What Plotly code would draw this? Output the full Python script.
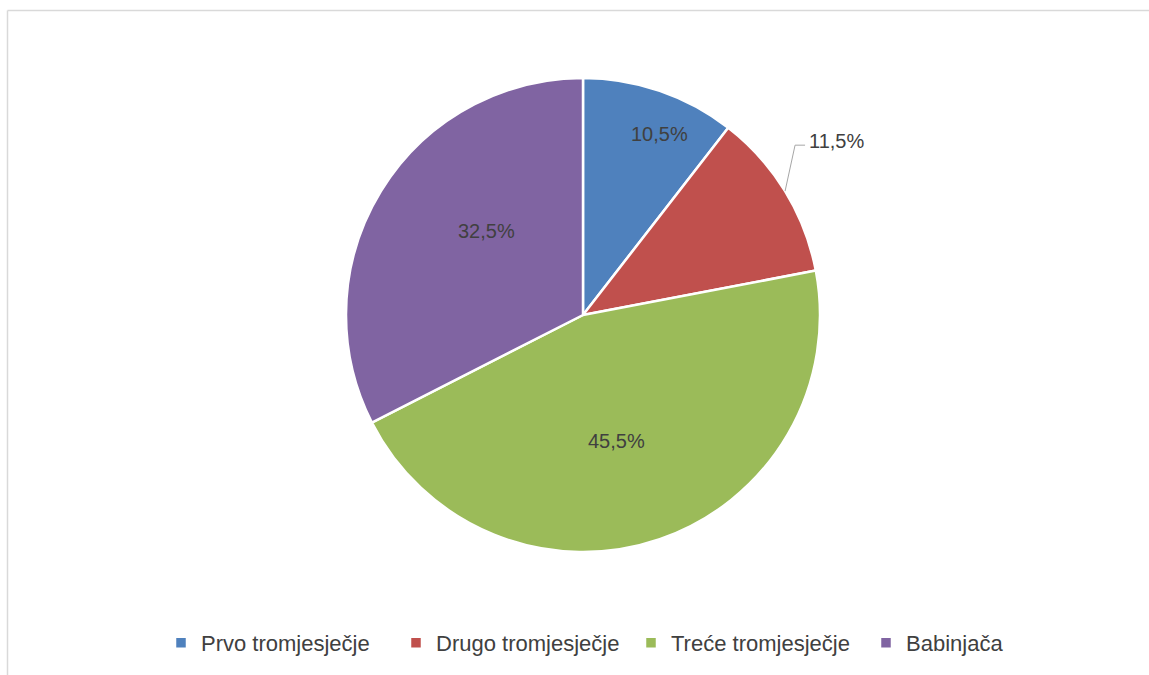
import math
import plotly.graph_objects as go

categories = ["Prvo tromjesječje", "Drugo tromjesječje", "Treće tromjesječje", "Babinjača"]
values = [10.5, 11.5, 45.5, 32.5]
colors = ["#4F81BD", "#C0504D", "#9BBB59", "#8064A2"]

# label placement style (per slice): inside labels at a fraction of the radius,
# with a small angular nudge; the second slice is labelled outside with a leader line
label_radius = [0.83, None, 0.55, 0.54]
label_nudge_deg = [4, 0, 4, 9.5]
outside_label_index = 1

W, H = 1149, 675
cx, cy, R = 583, 315, 237    # page pixel geometry of the pie
FONT = "Liberation Sans"
TXT = "#404040"


def px(x):
    return x / W


def py(y):
    return 1 - y / H


fig = go.Figure()
fig.add_trace(go.Pie(
    labels=categories,
    values=values,
    sort=False,
    direction="clockwise",
    rotation=0,
    marker=dict(colors=colors, line=dict(color="white", width=2.5)),
    textinfo="none",
    hovertemplate="%{label}: %{value:.1f}%<extra></extra>",
    domain=dict(x=[px(cx - R), px(cx + R)], y=[py(cy + R), py(cy - R)]),
))

total = sum(values)
cum = 0.0
for i, v in enumerate(values):
    start = cum / total
    cum += v
    mid = (start + v / total / 2) * 2 * math.pi
    label = f"{v:.1f}%".replace(".", ",")
    if i == outside_label_index:
        ex, ey = cx + R * math.sin(mid), cy - R * math.cos(mid)
        kx, ky = ex + 10, ey - 46
        tx = kx + 10
        fig.add_shape(type="path", xref="paper", yref="paper",
                      path=f"M {px(ex)} {py(ey)} L {px(kx)} {py(ky)} L {px(tx)} {py(ky)}",
                      line=dict(color="#a6a6a6", width=1))
        fig.add_annotation(x=px(tx + 2), y=py(ky - 4), xref="paper", yref="paper",
                           text=label, showarrow=False, xanchor="left", yanchor="middle",
                           font=dict(family=FONT, size=20, color=TXT))
    else:
        a = mid + math.radians(label_nudge_deg[i])
        r = R * label_radius[i]
        lx, ly = cx + r * math.sin(a), cy - r * math.cos(a)
        fig.add_annotation(x=px(lx), y=py(ly), xref="paper", yref="paper",
                           text=label, showarrow=False, xanchor="center", yanchor="middle",
                           font=dict(family=FONT, size=20, color=TXT))

# chart frame: only the top and left edges fall inside the picture
frame = dict(color="#d9d9d9", width=1.5)
fig.add_shape(type="line", xref="paper", yref="paper",
              x0=px(7.5), x1=1, y0=py(10.5), y1=py(10.5), line=frame)
fig.add_shape(type="line", xref="paper", yref="paper",
              x0=px(7.5), x1=px(7.5), y0=py(10.5), y1=0, line=frame)

fig.update_layout(
    width=W, height=H,
    margin=dict(l=0, r=0, t=0, b=0),
    separators=",.",
    paper_bgcolor="white",
    plot_bgcolor="white",
    showlegend=True,
    legend=dict(orientation="h", x=px(631), xanchor="center", y=py(643), yanchor="middle",
                font=dict(family=FONT, size=22, color=TXT), itemwidth=30,
                entrywidth=190, entrywidthmode="pixels",
                traceorder="normal"),
)

fig.write_html(
    "out.html",
    config={"displayModeBar": False},
    post_script="document.body.style.margin='0';document.body.style.overflow='hidden';",
)
